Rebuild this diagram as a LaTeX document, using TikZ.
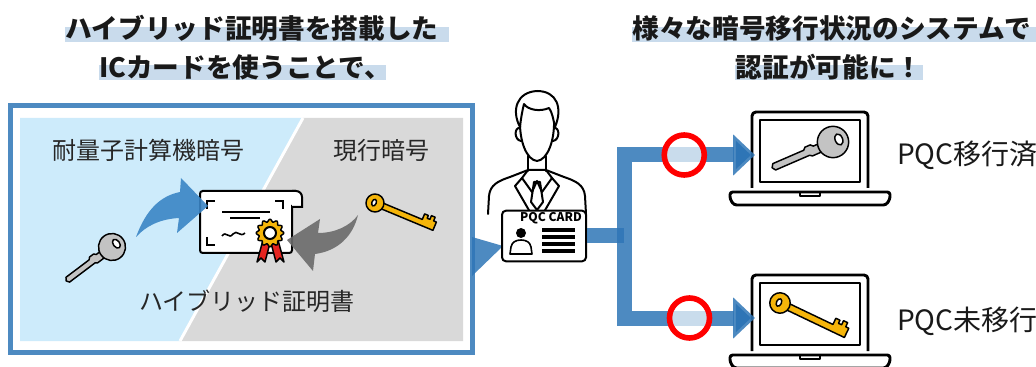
\documentclass[tikz,border=0pt]{standalone}
\usepackage{fontspec}
\setmainfont{Noto Sans CJK JP}
\usetikzlibrary{arrows.meta,calc,backgrounds}

\definecolor{linkblue}{HTML}{2E75B6}
\definecolor{bandblue}{HTML}{C9DBEC}
\definecolor{pqcbg}{HTML}{CDEBFB}
\definecolor{nowbg}{HTML}{D9D9D9}
\definecolor{swoopblue}{HTML}{3A85C5}
\definecolor{swoopgray}{HTML}{6B6B6B}
\definecolor{keygold}{HTML}{F5B50A}
\definecolor{keysilver}{HTML}{C3C3C3}
\definecolor{ribbon}{HTML}{E52420}

\tikzset{
	headline/.style={font=\fontsize{20}{24}\selectfont\bfseries, inner sep=0pt, text=black!90},
	band/.style={fill=bandblue},
	tag/.style={font=\fontsize{18}{22}\selectfont, inner sep=0pt, text=black!85},
	status/.style={font=\fontsize{21}{25}\selectfont, inner sep=0pt, anchor=west, text=black!90},
	link/.style={draw=linkblue, draw opacity=0.85, line width=11.25pt},
	okmark/.style={circle, draw=red, draw opacity=1, line width=4.2pt, fill=white, fill opacity=0.7, minimum size=30pt, inner sep=0pt},
	icon/.style={line width=1.5pt, line join=round, line cap=round},
	idcard/.style={draw, line width=1.5pt, fill=white, rounded corners=3pt, minimum width=63pt, minimum height=38pt, inner sep=0pt},
	pcline/.style={line width=2.2pt, line join=round},
	keyline/.style={line width=1.1pt, line join=round},
	silverkey/.pic={
		\draw[keyline, fill=keysilver] (11,-4) -- (21,-4) -- (23,-2.5) -- (55,-2.5) -- (57,0.5) -- (55,3.5) -- (26,3.5) -- (24,5.5) -- (19,5.5) -- (17,3.5) -- (11,3.5) -- cycle;
		\draw[keyline, fill=keysilver] (0,0) circle [radius=13.5];
		\draw[keyline, fill=white] (-5.5,0) ellipse [x radius=3.2, y radius=5];
	},
	goldkey/.pic={
		\draw[keyline, fill=keygold] (6,-3) -- (50,-3) -- (50,-9) -- (54,-9) -- (54,-6) -- (57,-6) -- (57,-10) -- (61,-10) -- (61,-6) -- (64,-6) -- (64,3) -- (6,3) -- cycle;
		\draw[keyline, fill=keygold] (0,0) circle [radius=9];
		\draw[keyline, fill=white] (-1,0) ellipse [x radius=2.2, y radius=3.5];
	},
	laptop/.pic={
		\draw[pcline, rounded corners=3pt] (-58,37) -- (-58,-39) -- (58,-39) -- (58,37);
		\draw[pcline] (-50,-31) rectangle (50,31);
		\draw[pcline, fill=white, rounded corners=2pt] (-80,41) -- (80,41) -- (80,48) -- (76,54) -- (-76,54) -- (-80,48) -- cycle;
		\draw[pcline] (-10,41) -- (-10,45) -- (10,45) -- (10,41);
		\coordinate (-port) at (-55,4);
	},
}

\begin{document}
\begin{tikzpicture}[x=0.75pt, y=-0.75pt]
	\useasboundingbox (0,0) rectangle (1036,367);

	\node[headline] (tA) at (252,28.5) {ハイブリッド証明書を搭載した};
	\node[headline] (tB) at (245,67) {ICカードを使うことで、};
	\node[headline] (tC) at (832,28.5) {様々な暗号移行状況のシステムで};
	\node[headline] (tD) at (829,67) {認証が可能に！};

	\begin{scope}[on background layer]
		\fill[band] ($(tA.west)+(0,-1.5)$) rectangle ($(tA.south east)+(10,0)$);
		\fill[band] ($(tB.west)+(0,-1.5)$) rectangle ($(tB.south east)+(-5,0)$);
		\fill[band] ($(tC.west)+(0,-1.5)$) rectangle ($(tC.south east)+(10,0)$);
		\fill[band] ($(tD.west)+(0,-1.5)$) rectangle (tD.south east);
	\end{scope}

	% hybrid certificate panel
	\fill[pqcbg] (20,118) -- (303,118) -- (180,341) -- (20,341) -- cycle;
	\fill[nowbg] (303,118) -- (463,118) -- (463,341) -- (180,341) -- cycle;
	\draw[white, line width=2.2pt] (303,118) -- (180,341);
	\draw[linkblue, draw opacity=0.85, line width=3.75pt] (10.5,105.5) rectangle (472.5,352.5);
	\fill[linkblue, fill opacity=0.85] (472,237) -- (503,246) -- (472,276) -- cycle;

	\node[tag] (pqclabel) at (148,150) {耐量子計算機暗号};
	\node[tag] (nowlabel) at (381,150) {現行暗号};
	\node[tag] (hybridlabel) at (247,301) {ハイブリッド証明書};

	\draw[line width=1.5pt, fill=white, rounded corners=2pt] (292,205) -- (292,253) -- (200,253) -- (200,191) -- (296,191);
	\draw[line width=1.5pt, fill=white] (292,207) -- (302,207) -- (302,197) arc [start angle=0, end angle=-90, radius=6] -- (292,191);
	\draw[line width=1.5pt] (207,209) -- (207,201) -- (215,201);
	\draw[line width=1.5pt] (275,201) -- (283,201) -- (283,209);
	\draw[line width=1.5pt] (207,237) -- (207,245) -- (215,245);
	\draw[line width=1.5pt] (222,212) -- (270,212);
	\draw[line width=1.5pt] (230,218) -- (260,218);
	\draw[line width=1.2pt] (222,236) .. controls (226,230) and (229,240) .. (233,234) .. controls (237,229) and (240,238) .. (245,233);

	\draw[keyline, fill=ribbon] (263,240) -- (257,262) -- (261,258) -- (265,262) -- (270,243) -- cycle;
	\draw[keyline, fill=ribbon] (271,243) -- (276,262) -- (280,258) -- (284,262) -- (278,240) -- cycle;
	\draw[keyline, fill=keygold] plot [domain=0:360, samples=97, smooth] ({270+(12.5+1.3*cos(12*\x))*cos(\x)}, {233+(12.5+1.3*cos(12*\x))*sin(\x)}) -- cycle;
	\draw[line width=1.5pt, fill=white] (270,233) circle [radius=6];

	\fill[swoopblue, opacity=0.9] (136,237) .. controls (146,210) and (160,196) .. (180,192) -- (181,178) -- (208,206) -- (177,233) -- (179,218) .. controls (160,219) and (146,226) .. cycle;
	\fill[swoopgray, opacity=0.9] (358,215) .. controls (353,236) and (338,251) .. (315,254) -- (313,271) -- (287,240) -- (320,219) -- (318,233) .. controls (335,233) and (350,226) .. cycle;

	\pic[rotate=-143] at (112,247) {silverkey};
	\pic[rotate=-22.6] at (375,203) {goldkey};

	% card holder
	\begin{scope}[icon]
		\draw[fill=white] (488,214) -- (489,196) .. controls (490,185) and (498,181) .. (510,177) -- (528,170) -- (546,170) -- (564,177) .. controls (576,181) and (584,185) .. (585,196) -- (586,214);
		\draw (528,156) -- (528,171);
		\draw (546,156) -- (546,171);
		\draw[fill=white] (520,118) .. controls (519,142) and (527,160) .. (537,161) .. controls (547,160) and (555,142) .. (554,118);
		\draw (520,128) .. controls (514,127) and (514,140) .. (521,141);
		\draw (554,128) .. controls (560,127) and (560,140) .. (553,141);
		\draw[fill=white] (520,127) .. controls (511,110) and (517,92) .. (537,91) .. controls (557,91) and (563,108) .. (555,127) .. controls (553,118) and (552,112) .. (549,108) .. controls (540,112) and (528,110) .. (524,104) .. controls (522,112) and (521,118) .. (520,127) -- cycle;
		\draw (528,170) -- (522,178) -- (532,192) -- (537,181) -- (542,192) -- (552,178) -- (546,170);
		\draw (534,182) -- (540,182) -- (543,202) -- (537,210) -- (531,202) -- cycle;
		\draw (522,178) -- (515,186) -- (530,212);
		\draw (552,178) -- (559,186) -- (544,212);
	\end{scope}

	\node[idcard] (card) at (544,236) {};
	\node[font=\fontsize{9}{10}\selectfont\bfseries, inner sep=0pt] (cardname) at (551,218.5) {PQC CARD};
	\foreach \y in {228,235,242,249}
	{
		\fill (542,\y) rectangle ++(33,4);
	};
	\fill (521,233) circle [radius=5];
	\draw[line width=1.2pt, line join=round] (510,254) -- (511,247) .. controls (512,242) and (516,240) .. (521,240) .. controls (526,240) and (530,242) .. (531,247) -- (532,254) -- cycle;

	% systems
	\pic (pcA) at (810,151) {laptop};
	\pic (pcB) at (810,314) {laptop};
	\pic[rotate=-156.6, scale=1.16] at (833,142) {silverkey};
	\pic[rotate=-25.5, scale=1.14] at (780,303) {goldkey};

	\coordinate (split) at (624,236);
	\draw[link] (card.east) -- (split);
	\draw[link, -{Triangle[length=16.5pt, width=30pt]}] (split) |- node[okmark, pos=0.73] (okA) {} (pcA-port);
	\draw[link, -{Triangle[length=16.5pt, width=30pt]}] (split) |- node[okmark, pos=0.75] (okB) {} (pcB-port);

	\node[status] (doneA) at (897,155) {PQC移行済};
	\node[status] (notB) at (897,321) {PQC未移行};
\end{tikzpicture}
\end{document}
